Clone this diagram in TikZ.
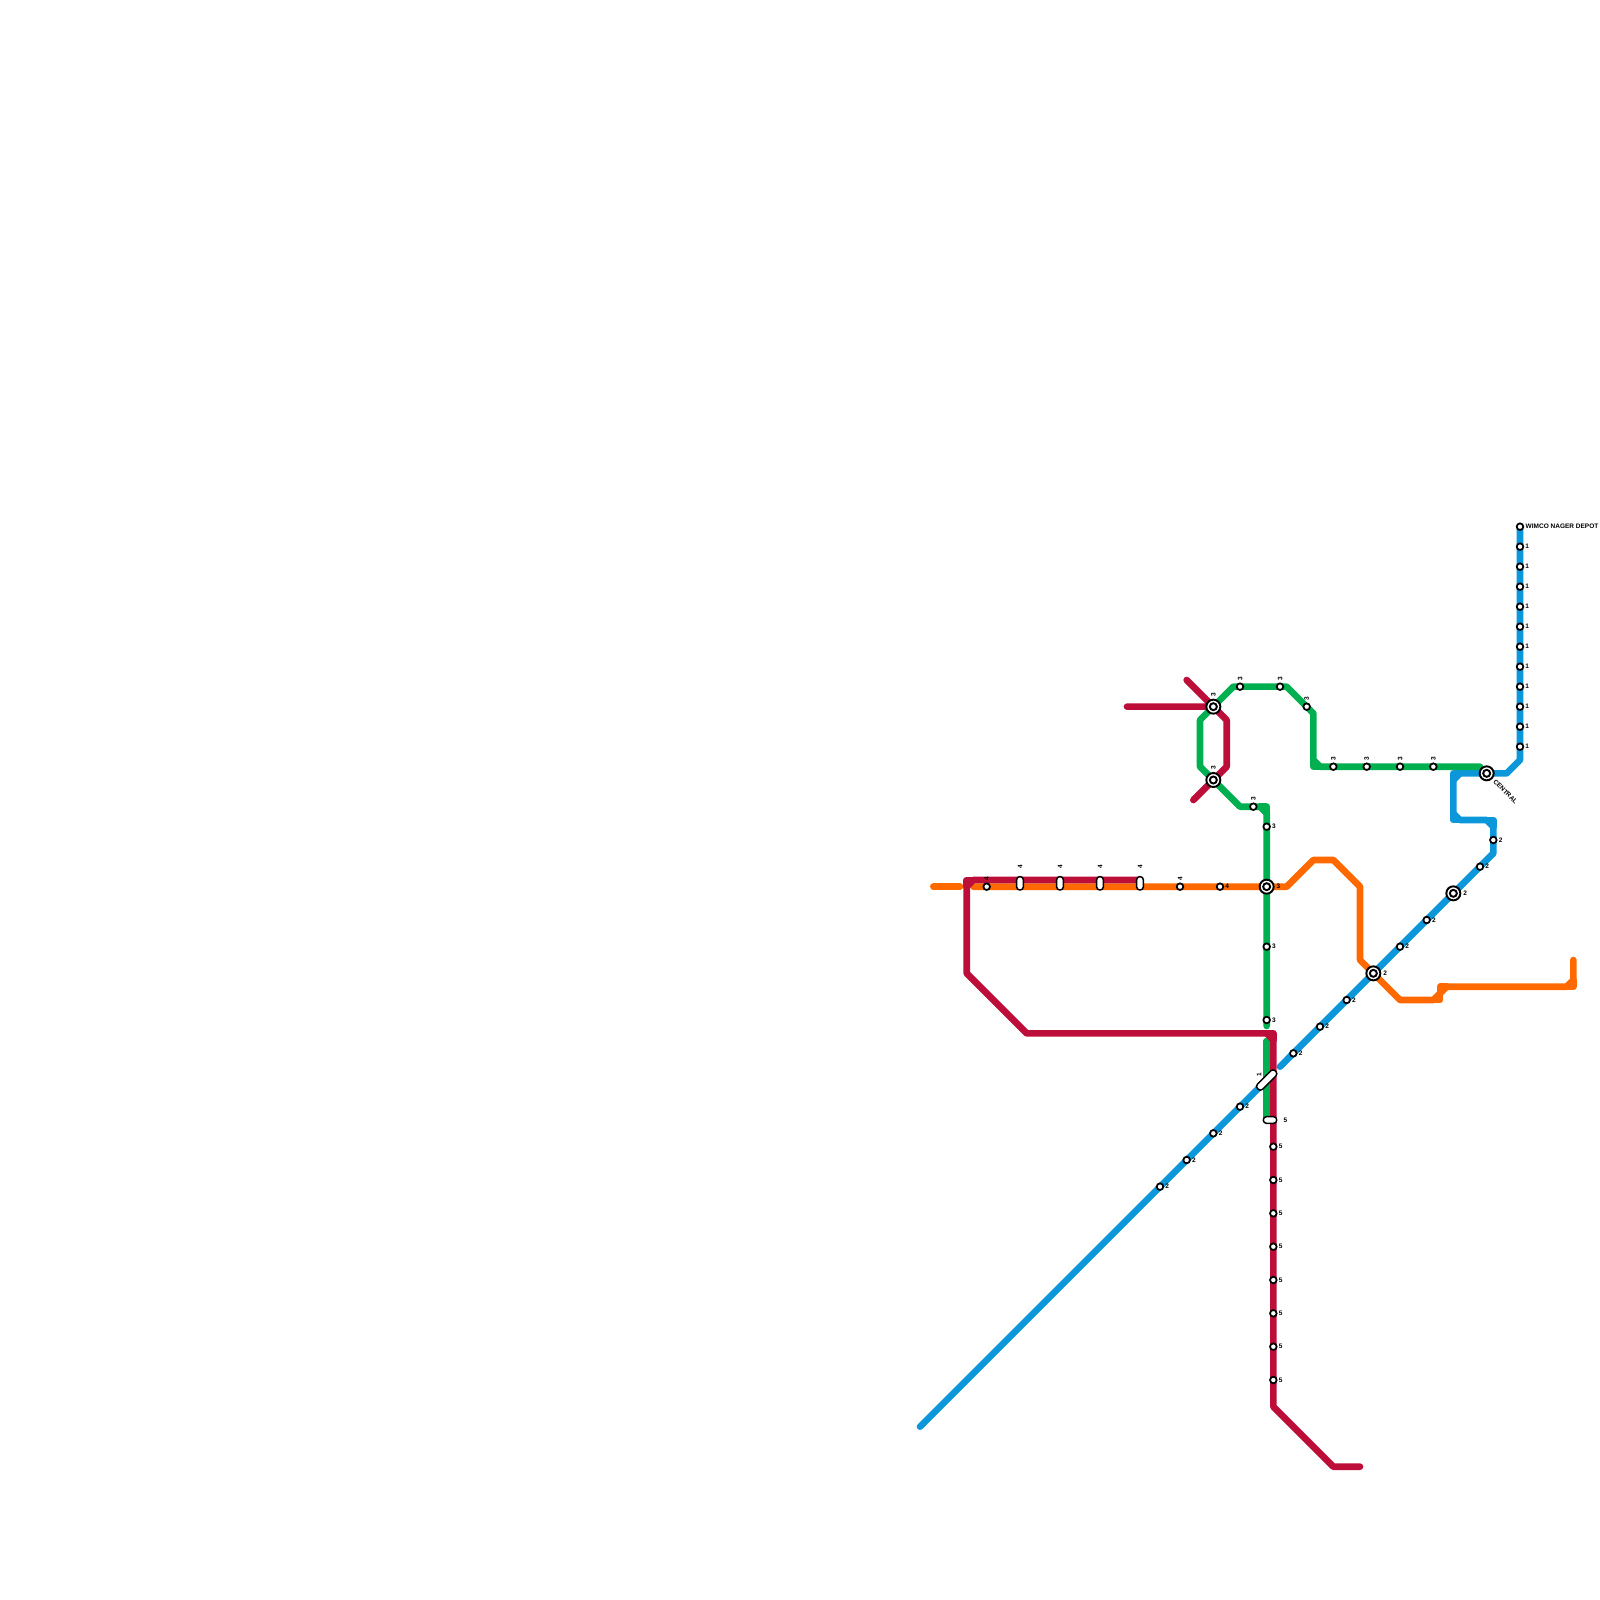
\documentclass[tikz,border=0pt]{standalone}
\usepackage{fontspec}
\setmainfont{Liberation Sans}
\usepackage{xcolor}
\definecolor{lineblue}{HTML}{0B97D9}
\definecolor{linegreen}{HTML}{00B050}
\definecolor{linered}{HTML}{BD0E3A}
\definecolor{lineorange}{HTML}{FF6900}
\tikzset{
  metro/.style={line width=1.89pt, line cap=round, line join=round},
  lbl/.style={font=\bfseries\fontsize{1.85}{2}\selectfont, inner sep=0pt, text=black},
  stop/.style={circle, draw=black, fill=white, line width=0.5pt, inner sep=0pt, minimum size=0.066cm},
  hub/.style={circle, draw=black, fill=white, line width=0.55pt, inner sep=0pt, minimum size=0.14cm},
  hubin/.style={circle, draw=black, fill=white, line width=0.55pt, inner sep=0pt, minimum size=0.07cm},
  capv/.style={rectangle, rounded corners=0.03cm, draw=black, fill=white, line width=0.42pt, inner sep=0pt, minimum width=0.066cm, minimum height=0.133cm},
  caph/.style={capv, minimum width=0.133cm, minimum height=0.066cm},
  capd/.style={capv, minimum width=0.25cm, minimum height=0.072cm, rotate=45},
  rt/.style={label={[lbl, label distance=0.15pt]right:#1}},
  up/.style={label={[lbl, rotate=90, anchor=west, inner xsep=0.25pt]90:#1}},
  hubup/.style={label={[lbl, rotate=90, anchor=west, inner xsep=0.5pt]90:#1}},
  capup/.style={label={[lbl, rotate=90, anchor=west, inner xsep=1.85pt]90:#1}}
}

\begin{document}
\begin{tikzpicture}[x=0.01cm, y=-0.01cm]
    \useasboundingbox (0,0) rectangle (1600,1600);

    % Line 1 and 2 (blue)
    \draw[metro, lineblue] (920,1426.67) -- (1266.67,1080);
    \draw[metro, lineblue] (1280,1066.67) -- (1493.33,853.33) -- (1493.33,826.67) -- (1486.67,820) -- (1460,820) -- (1453.33,813.33) -- (1453.33,780) -- (1460,773.33) -- (1506.67,773.33) -- (1520,760) -- (1520,526.67);
    \draw[metro, lineblue] (1486.67,820) -- (1493.33,820) -- (1493.33,826.67) (1460,820) -- (1453.33,820) -- (1453.33,813.33) (1453.33,780) -- (1453.33,773.33) -- (1460,773.33);

    % Line 3 (green)
    \draw[metro, linegreen] (1480,766.67) -- (1320,766.67) -- (1313.33,760) -- (1313.33,713.33) -- (1286.67,686.67) -- (1233.33,686.67) -- (1200,720) -- (1200,766.67) -- (1240,806.67) -- (1260,806.67) -- (1266.67,813.33) -- (1266.67,1026);
    \draw[metro, linegreen] (1320,766.67) -- (1313.33,766.67) -- (1313.33,760) (1260,806.67) -- (1266.67,806.67) -- (1266.67,813.33);
    \draw[metro, linegreen] (1266.67,1041) -- (1266.67,1120);

    % Line 4 (orange)
    \draw[metro, lineorange] (933.33,886.67) -- (960,886.67);
    \draw[metro, lineorange] (973.33,886.67) -- (1286.67,886.67) -- (1313.33,860) -- (1333.33,860) -- (1360,886.67) -- (1360,960) -- (1400,1000) -- (1433.33,1000) -- (1446.67,986.67) -- (1566.67,986.67) -- (1573.33,980) -- (1573.33,960);
    \draw[metro, lineorange] (1433.33,1000) -- (1440,1000) -- (1440,993.33) -- (1440,986.67) -- (1446.67,986.67) (1566.67,986.67) -- (1573.33,986.67) -- (1573.33,980);

    % Line 5 (red)
    \draw[metro, linered] (1127,706.67) -- (1213.33,706.67) (1186.67,680) -- (1226.67,720) -- (1226.67,766.67) -- (1193.33,800);
    \draw[metro, linered] (1140,880) -- (973.33,880) -- (966.67,886.67) -- (966.67,973.33) -- (1026.67,1033.33) -- (1266.67,1033.33) -- (1273.33,1040) -- (1273.33,1406.67) -- (1333.33,1466.67) -- (1360,1466.67);
    \draw[metro, linered] (973.33,880) -- (966.67,880) -- (966.67,886.67) (1266.67,1033.33) -- (1273.33,1033.33) -- (1273.33,1040);

    % Stations on the vertical blue branch
    \node[stop] (wimco) at (1520,526.67) {};
    \node[lbl, anchor=west] (wimcotext) at (1525,526.3) {WIMCO NAGER DEPOT};
    \foreach \k in {1,...,11}
        \node[stop, rt=1] (blue\k) at (1520,{526.67+20*\k}) {};

    % Stations on the diagonal blue line
    \foreach \n/\x/\y in {a/1160/1186.67, b/1186.67/1160, c/1213.33/1133.33, d/1240/1106.67, e/1293.33/1053.33, f/1320/1026.67, g/1346.67/1000, h/1400/946.67, i/1426.67/920, j/1480/866.67, k/1493.33/840}
        \node[stop, rt=2] (diag\n) at (\x,\y) {};

    % Stations on the green line
    \foreach \n/\x/\y in {a/1240/686.67, b/1280/686.67, c/1306.67/706.67, d/1333.33/766.67, e/1366.67/766.67, f/1400/766.67, g/1433.33/766.67, h/1253.33/806.67}
        \node[stop, up=3] (green\n) at (\x,\y) {};
    \foreach \n/\y in {i/826.67, j/946.67, k/1020}
        \node[stop, rt=3] (green\n) at (1266.67,\y) {};

    % Stations on the orange line
    \node[stop, up=4] (orangea) at (986.67,886.67) {};
    \node[stop, up=4] (orangeb) at (1180,886.67) {};
    \node[stop, rt=4] (orangec) at (1220,886.67) {};
    \foreach \x in {1020,1060,1100,1140}
        \node[capv, capup=4] (cap\x) at (\x,883.33) {};

    % Stations on the red line
    \foreach \k in {0,...,7}
        \node[stop, rt=5] (red\k) at (1273.33,{1146.67+33.333*\k}) {};

    % Long platforms
    \node[capd] (capone) at (1266.67,1080) {};
    \node[lbl, rotate=90] (capnum) at (1259,1074.7) {1};
    \node[caph, label={[lbl, label distance=1.6pt]right:5}] (capfive) at (1270,1120) {};

    % Interchanges
    \foreach \n/\x/\y/\t in {hubg/1266.67/886.67/3, hubh/1373.33/973.33/2, hubi/1453.33/893.33/2} {
        \node[hub, label={[lbl, label distance=0.35pt]right:\t}] (\n) at (\x,\y) {};
        \node[hubin] at (\n) {};
    }
    \foreach \n/\x/\y in {huba/1213.33/706.67, hubb/1213.33/780} {
        \node[hub, hubup=3] (\n) at (\x,\y) {};
        \node[hubin] at (\n) {};
    }
    \node[hub] (central) at (1486.67,773.33) {};
    \node[hubin] at (central) {};
    \node[lbl, rotate=-45] (centraltext) at (1505.5,791.7) {CENTRAL};
\end{tikzpicture}
\end{document}
